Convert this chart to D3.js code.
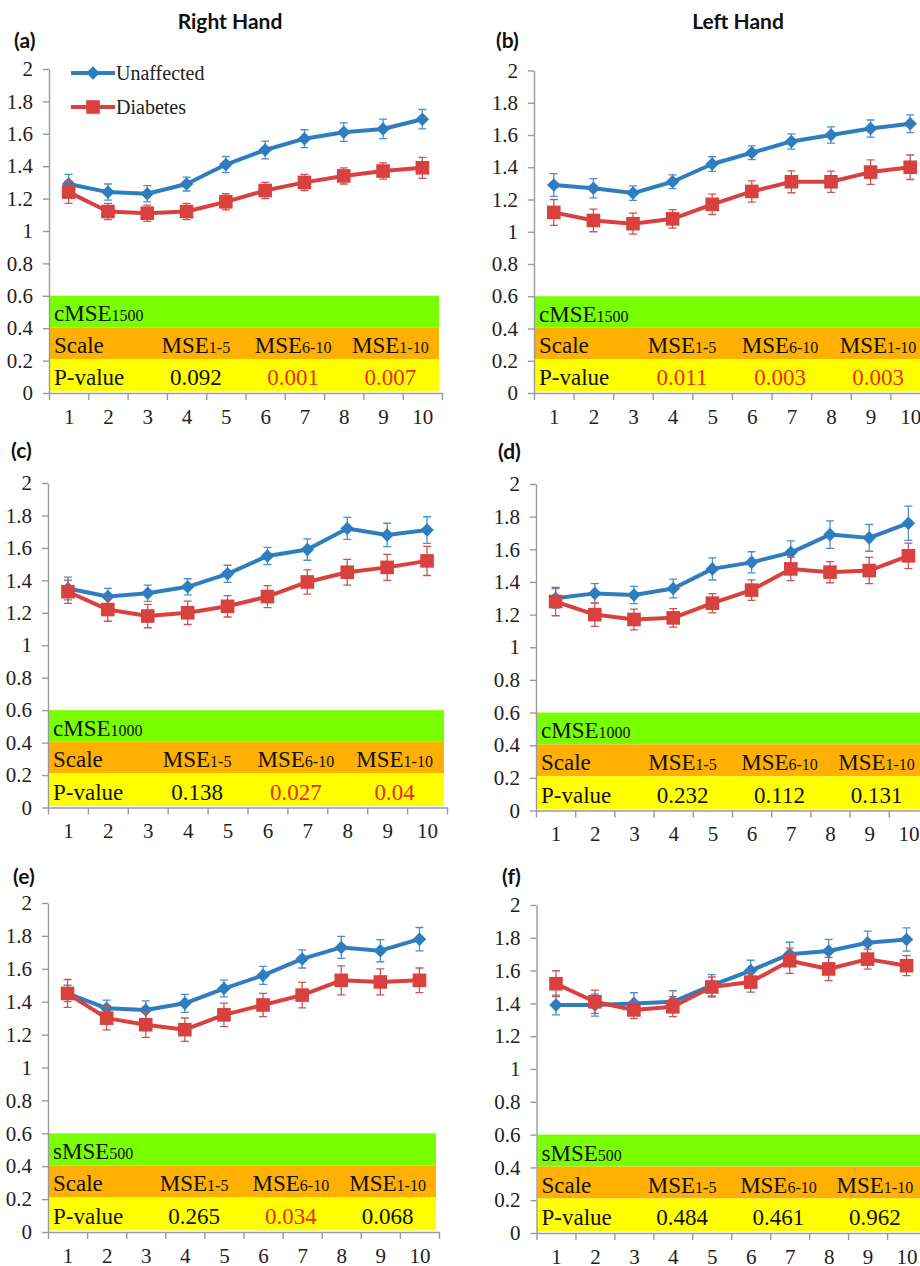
<!DOCTYPE html>
<html>
<head>
<meta charset="utf-8">
<script src="https://cdn.jsdelivr.net/npm/d3@7"></script>
<style>
  body { margin: 0; background: #ffffff; }
  svg { display: block; }
</style>
</head>
<body>
<svg id="chart" width="920" height="1266"></svg>
<script>
// ---------- data ----------
const scaleNumbers = [1, 2, 3, 4, 5, 6, 7, 8, 9, 10];
const yTickValues = [0, 0.2, 0.4, 0.6, 0.8, 1, 1.2, 1.4, 1.6, 1.8, 2];
const yTickLabels = ["0", "0.2", "0.4", "0.6", "0.8", "1", "1.2", "1.4", "1.6", "1.8", "2"];
const seriesNames = ["Unaffected", "Diabetes"];
const handTitles = ["Right Hand", "Left Hand"];
const panelLetters = ["(a)", "(b)", "(c)", "(d)", "(e)", "(f)"];

// table header texts
const rowLabels = ["Scale", "P-value"];
const columnBase = "MSE";
const columnRanges = ["1-5", "6-10", "1-10"];
const measureNames = [["cMSE", "1500"], ["cMSE", "1500"], ["cMSE", "1000"], ["cMSE", "1000"], ["sMSE", "500"], ["sMSE", "500"]];

// (a) right hand, cMSE1500
const unaffectedA = [1.29, 1.24, 1.23, 1.29, 1.41, 1.50, 1.57, 1.61, 1.63, 1.69];
const unaffectedErrA = [0.06, 0.05, 0.05, 0.043, 0.05, 0.055, 0.055, 0.057, 0.06, 0.06];
const diabetesA = [1.24, 1.12, 1.11, 1.12, 1.18, 1.25, 1.30, 1.34, 1.37, 1.39];
const diabetesErrA = [0.07, 0.05, 0.05, 0.05, 0.05, 0.05, 0.05, 0.05, 0.05, 0.065];
const pValuesA = ["0.092", "0.001", "0.007"];

// (b) left hand, cMSE1500
const unaffectedB = [1.29, 1.27, 1.24, 1.31, 1.42, 1.49, 1.56, 1.60, 1.64, 1.67];
const unaffectedErrB = [0.07, 0.06, 0.045, 0.043, 0.045, 0.043, 0.047, 0.05, 0.053, 0.055];
const diabetesB = [1.12, 1.07, 1.05, 1.08, 1.17, 1.25, 1.31, 1.31, 1.37, 1.40];
const diabetesErrB = [0.08, 0.07, 0.065, 0.057, 0.063, 0.066, 0.068, 0.066, 0.076, 0.076];
const pValuesB = ["0.011", "0.003", "0.003"];

// (c) right hand, cMSE1000
const unaffectedC = [1.35, 1.30, 1.32, 1.36, 1.44, 1.55, 1.59, 1.72, 1.68, 1.71];
const unaffectedErrC = [0.07, 0.05, 0.05, 0.05, 0.053, 0.053, 0.066, 0.068, 0.072, 0.082];
const diabetesC = [1.33, 1.22, 1.18, 1.20, 1.24, 1.30, 1.39, 1.45, 1.48, 1.52];
const diabetesErrC = [0.072, 0.072, 0.072, 0.072, 0.066, 0.068, 0.075, 0.079, 0.08, 0.09];
const pValuesC = ["0.138", "0.027", "0.04"];

// (d) left hand, cMSE1000
const unaffectedD = [1.30, 1.33, 1.32, 1.36, 1.48, 1.52, 1.58, 1.69, 1.67, 1.76];
const unaffectedErrD = [0.06, 0.06, 0.053, 0.057, 0.068, 0.065, 0.072, 0.084, 0.082, 0.105];
const diabetesD = [1.28, 1.20, 1.17, 1.18, 1.27, 1.35, 1.48, 1.46, 1.47, 1.56];
const diabetesErrD = [0.087, 0.072, 0.063, 0.057, 0.059, 0.063, 0.072, 0.065, 0.08, 0.078];
const pValuesD = ["0.232", "0.112", "0.131"];

// (e) right hand, sMSE500
const unaffectedE = [1.45, 1.36, 1.35, 1.39, 1.48, 1.56, 1.66, 1.73, 1.71, 1.78];
const unaffectedErrE = [0.05, 0.049, 0.055, 0.055, 0.051, 0.055, 0.055, 0.067, 0.067, 0.071];
const diabetesE = [1.45, 1.30, 1.26, 1.23, 1.32, 1.38, 1.44, 1.53, 1.52, 1.53];
const diabetesErrE = [0.085, 0.071, 0.077, 0.071, 0.071, 0.071, 0.078, 0.088, 0.079, 0.075];
const pValuesE = ["0.265", "0.034", "0.068"];

// (f) left hand, sMSE500
const unaffectedF = [1.39, 1.39, 1.40, 1.41, 1.51, 1.60, 1.70, 1.72, 1.77, 1.79];
const unaffectedErrF = [0.06, 0.067, 0.065, 0.067, 0.065, 0.063, 0.073, 0.071, 0.071, 0.071];
const diabetesF = [1.52, 1.41, 1.36, 1.38, 1.50, 1.53, 1.66, 1.61, 1.67, 1.63];
const diabetesErrF = [0.079, 0.071, 0.053, 0.061, 0.061, 0.061, 0.077, 0.071, 0.061, 0.061];
const pValuesF = ["0.484", "0.461", "0.962"];

const significance = 0.05;

// ---------- layout & style ----------
const BLUE = "#2E7DC1", BLUE_ERR = "#4C8FCB";
const RED = "#D9413E", RED_ERR = "#CC5552";
const AXIS = "#9a9a9a";
const SERIF = "'Liberation Serif', 'DejaVu Serif', serif";
const SANS = "Lato, 'Open Sans', sans-serif";

const frames = [
  { x0: 49,   x1: 442, yTop: 69,   yBot: 393,   lx: 14,  ly: 48 },
  { x0: 534,  x1: 930, yTop: 70.5, yBot: 393,   lx: 496, ly: 48 },
  { x0: 48,   x1: 447, yTop: 483,  yBot: 807.5, lx: 11,  ly: 458 },
  { x0: 536,  x1: 928, yTop: 484,  yBot: 810.5, lx: 498, ly: 459 },
  { x0: 48,   x1: 439, yTop: 903,  yBot: 1232,  lx: 13,  ly: 884 },
  { x0: 536.5,x1: 926, yTop: 905,  yBot: 1233,  lx: 502, ly: 884 }
];
// table bands in axis units: [bottom, top, fill]
const tableBands = [[0.405, 0.6, "#78FF02"], [0.21, 0.405, "#FFB000"], [0.01, 0.21, "#FFFF00"]];

const panels = [
  { u: unaffectedA, ue: unaffectedErrA, d: diabetesA, de: diabetesErrA, p: pValuesA },
  { u: unaffectedB, ue: unaffectedErrB, d: diabetesB, de: diabetesErrB, p: pValuesB },
  { u: unaffectedC, ue: unaffectedErrC, d: diabetesC, de: diabetesErrC, p: pValuesC },
  { u: unaffectedD, ue: unaffectedErrD, d: diabetesD, de: diabetesErrD, p: pValuesD },
  { u: unaffectedE, ue: unaffectedErrE, d: diabetesE, de: diabetesErrE, p: pValuesE },
  { u: unaffectedF, ue: unaffectedErrF, d: diabetesF, de: diabetesErrF, p: pValuesF }
];

const svg = d3.select("#chart");

// column headings
svg.selectAll("text.hand").data(handTitles).join("text")
  .attr("class", "hand")
  .attr("x", (d, i) => i === 0 ? 230 : 738)
  .attr("y", 29)
  .attr("text-anchor", "middle")
  .attr("font-family", SANS).attr("font-weight", 700).attr("font-size", 21)
  .attr("fill", "#111")
  .text(d => d);

const diamond = d3.symbol().type(d3.symbolSquare).size(92);
const square = d3.symbol().type(d3.symbolSquare).size(185);

function drawSeries(g, x, y, values, errs, color, errColor, marker, rotate) {
  const pts = scaleNumbers.map((s, i) => ({ s, v: values[i], e: errs[i] }));
  // error bars
  const eb = g.append("g").attr("stroke", errColor).attr("stroke-width", 1.3).attr("fill", "none");
  eb.selectAll("path").data(pts).join("path")
    .attr("d", d => {
      const cx = x(d.s), t = y(d.v + d.e), b = y(d.v - d.e);
      return `M${cx},${t}V${b}M${cx - 4},${t}H${cx + 4}M${cx - 4},${b}H${cx + 4}`;
    });
  // line
  g.append("path").datum(pts)
    .attr("fill", "none").attr("stroke", color).attr("stroke-width", 4)
    .attr("stroke-linejoin", "round")
    .attr("d", d3.line().x(d => x(d.s)).y(d => y(d.v)));
  // markers
  g.append("g").selectAll("path").data(pts).join("path")
    .attr("d", marker)
    .attr("fill", color)
    .attr("transform", d => `translate(${x(d.s)},${y(d.v)}) rotate(${rotate})`);
}

panels.forEach((pd, idx) => {
  const f = frames[idx];
  const g = svg.append("g");
  const x = d3.scaleLinear().domain([0.5, 10.5]).range([f.x0, f.x1]);
  const y = d3.scaleLinear().domain([0, 2]).range([f.yBot, f.yTop]);

  // panel letter
  g.append("text").attr("x", f.lx).attr("y", f.ly)
    .attr("font-family", SANS).attr("font-weight", 700).attr("font-size", 21)
    .attr("fill", "#111").text(panelLetters[idx]);

  // statistics table
  const tx0 = f.x0 + 1, tx1 = f.x1 - 3, tw = tx1 - tx0;
  g.append("g").selectAll("rect").data(tableBands).join("rect")
    .attr("x", tx0).attr("width", tw)
    .attr("y", d => y(d[1])).attr("height", d => y(d[0]) - y(d[1]))
    .attr("fill", d => d[2]);

  const base = b => y(b[0]) - 6;
  // measure title
  const mt = g.append("text").attr("x", tx0 + 4).attr("y", base(tableBands[0]))
    .attr("font-family", SERIF).attr("fill", "#111");
  mt.append("tspan").attr("font-size", 23).text(measureNames[idx][0]);
  mt.append("tspan").attr("font-size", 16).text(measureNames[idx][1]);

  // header row
  g.append("text").attr("x", tx0 + 4).attr("y", base(tableBands[1]))
    .attr("font-family", SERIF).attr("font-size", 23).attr("fill", "#111").text(rowLabels[0]);
  columnRanges.forEach((r, c) => {
    const t = g.append("text").attr("x", tx0 + tw * (3 + 2 * c) / 8).attr("y", base(tableBands[1]))
      .attr("text-anchor", "middle").attr("font-family", SERIF).attr("fill", "#111");
    t.append("tspan").attr("font-size", 23).text(columnBase);
    t.append("tspan").attr("font-size", 16).text(r);
  });

  // p-value row
  g.append("text").attr("x", tx0 + 4).attr("y", base(tableBands[2]))
    .attr("font-family", SERIF).attr("font-size", 23).attr("fill", "#111").text(rowLabels[1]);
  g.append("g").selectAll("text").data(pd.p).join("text")
    .attr("x", (d, c) => tx0 + tw * (3 + 2 * c) / 8).attr("y", base(tableBands[2]))
    .attr("text-anchor", "middle").attr("font-family", SERIF).attr("font-size", 23)
    .attr("fill", d => (+d < significance ? "#F02A12" : "#111"))
    .text(d => d);

  // y axis
  const ya = g.append("g").attr("transform", `translate(${f.x0},0)`)
    .call(d3.axisLeft(y).tickValues(yTickValues).tickSize(6).tickSizeOuter(0).tickPadding(10)
      .tickFormat((d, i) => yTickLabels[i]));
  // x axis: tick marks between categories, labels under each
  const xa = g.append("g").attr("transform", `translate(0,${f.yBot})`)
    .call(d3.axisBottom(x).tickValues(d3.range(0.5, 11, 1)).tickSize(7).tickSizeOuter(0).tickFormat(""));
  const xl = g.append("g").attr("transform", `translate(0,${f.yBot})`)
    .call(d3.axisBottom(x).tickValues(scaleNumbers).tickSize(0).tickPadding(16));
  xl.select(".domain").remove();
  [ya, xa, xl].forEach(a => {
    a.selectAll(".domain, line").attr("stroke", AXIS).attr("stroke-width", 1.4);
    a.selectAll("text").attr("font-family", SERIF).attr("font-size", 21).attr("fill", "#222");
  });

  // series
  drawSeries(g, x, y, pd.u, pd.ue, BLUE, BLUE_ERR, diamond, 45);
  drawSeries(g, x, y, pd.d, pd.de, RED, RED_ERR, square, 0);

  // legend on the first panel
  if (idx === 0) {
    const lg = g.append("g");
    [[BLUE, diamond, 45, 73], [RED, square, 0, 107]].forEach((L, i) => {
      lg.append("line").attr("x1", 71).attr("x2", 115).attr("y1", L[3]).attr("y2", L[3])
        .attr("stroke", L[0]).attr("stroke-width", 4);
      lg.append("path").attr("d", L[1]).attr("fill", L[0])
        .attr("transform", `translate(93,${L[3]}) rotate(${L[2]})`);
      lg.append("text").attr("x", 116).attr("y", L[3] + 7)
        .attr("font-family", SERIF).attr("font-size", 20).attr("fill", "#222")
        .text(seriesNames[i]);
    });
  }
});
</script>
</body>
</html>
